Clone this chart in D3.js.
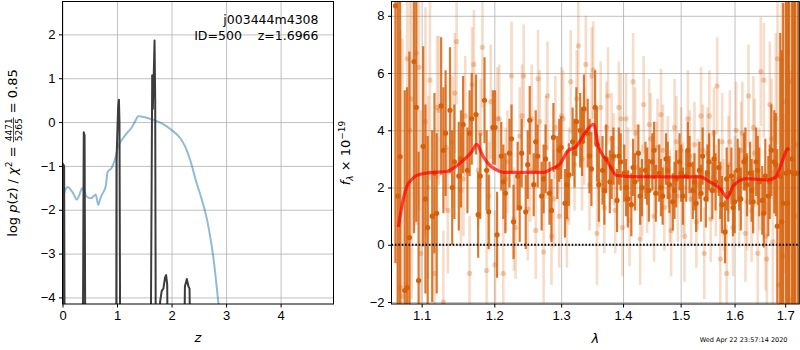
<!DOCTYPE html>
<html>
<head>
<meta charset="utf-8">
<script src="https://cdn.jsdelivr.net/npm/d3@7"></script>
<style>
  body { margin: 0; background: #fff; }
  svg { font-family: "DejaVu Sans", sans-serif; }
  .grid line { stroke: #b0b0b0; stroke-width: 0.8; }
  .grid path { display: none; }
  .axis path { display: none; }
  .axis line { stroke: #000; }
  .axis text { font-size: 13px; fill: #000; }
</style>
</head>
<body>
<div id="chart"></div>
<script>
// ---- left panel: log p(z) ----
const priorZ = [0.0, 0.05, 0.10, 0.16, 0.21, 0.26, 0.31, 0.36, 0.40, 0.44, 0.52, 0.58, 0.61, 0.655, 0.69, 0.73, 0.79, 0.83, 0.90, 0.96, 1.02, 1.11, 1.18, 1.26, 1.33, 1.39, 1.51, 1.64, 1.82, 2.00, 2.16, 2.25, 2.34, 2.46, 2.55, 2.65, 2.72, 2.77, 2.86, 2.92];
const priorLogP = [-1.77, -1.55, -1.48, -1.56, -1.66, -1.77, -1.66, -1.51, -1.58, -1.70, -1.74, -1.68, -1.65, -1.89, -1.76, -1.64, -1.48, -1.13, -1.05, -0.86, -0.56, -0.37, -0.25, -0.14, 0.01, 0.13, 0.11, 0.06, -0.03, -0.18, -0.37, -0.56, -0.86, -1.39, -1.75, -2.22, -2.70, -3.12, -4.13, -4.8];

const pzZ = [0.0, 0.006, 0.03, 0.04, 0.37, 0.39, 0.405, 0.42, 0.985, 0.99, 1.02, 1.035, 1.045, 1.06, 1.615, 1.645, 1.656, 1.672, 1.688, 1.70, 1.712, 1.77, 1.79, 1.82, 1.85, 1.88, 1.90, 1.92, 1.935, 2.225, 2.245, 2.28, 2.31, 2.33, 2.35, 5.0];
const pzLogP = [-6, -0.95, -1.0, -6, -6, -0.23, -0.3, -6, -6, -0.9, 0.35, 0.51, 0.0, -6, -6, 1.07, 0.3, 1.0, 1.86, 0.5, -6, -6, -4.1, -3.85, -3.8, -3.55, -3.49, -3.7, -6, -6, -3.75, -3.58, -3.75, -3.8, -6, -6];

const pzXTicks = [0, 1, 2, 3, 4];
const pzYTicks = [-4, -3, -2, -1, 0, 1, 2];

// ---- right panel: spectrum ----
const darkLam = [1.066,1.072,1.078,1.084,1.090,1.096,1.102,1.108,1.114,1.120,1.126,1.132,1.138,1.144,1.150,1.156,1.162,1.168,1.174,1.180,1.186,1.192,1.198,1.204,1.210,1.216,1.222,1.228,1.234,1.240,1.246,1.252,1.258,1.264,1.270,1.276,1.282,1.288,1.294,1.300,1.306,1.312,1.318,1.324,1.330,1.336,1.342,1.348,1.354,1.360,1.366,1.372,1.378,1.384,1.390,1.396,1.402,1.408,1.414,1.420,1.426,1.432,1.438,1.444,1.450,1.456,1.462,1.468,1.474,1.480,1.486,1.492,1.498,1.504,1.510,1.516,1.522,1.528,1.534,1.540,1.546,1.552,1.558,1.564,1.570,1.576,1.582,1.588,1.594,1.600,1.606,1.612,1.618,1.624,1.630,1.636,1.642,1.648,1.654,1.660,1.666,1.672,1.678,1.684,1.690,1.696,1.702,1.708,1.714,1.720,1.726];
const darkFlux = [8.35,3.08,-1.6,0.25,6.4,-1.25,3.44,0.6,1.0,1.1,
  4.85,3.9,4.7,2.9,2.4,4.2,2.6,4.4,4.55,2.4,
  5.05,1.15,4.1,0.35,3.1,1.8,3.2,0.8,2.4,3.2,
  1.15,4.35,2.1,3.1,1.7,3.0,1.8,3.75,2.7,3.4,
  1.45,2.45,3.6,4.3,4.0,4.75,3.9,2.65,4.8,2.1,
  2.6,3.0,2.2,3.1,1.55,2.9,2.5,1.6,1.4,2.2,
  3.2,2.0,2.6,1.9,2.9,1.8,2.5,1.7,3.0,2.1,
  1.5,2.3,2.9,1.7,2.4,2.8,1.9,1.45,2.6,3.1,
  1.6,2.9,1.9,2.2,2.7,1.4,0.45,1.8,2.4,1.5,
  2.6,1.6,2.9,2.1,2.5,1.5,2.9,2.2,1.55,2.4,
  1.7,3.3,2.9,0.65,2.4,1.45,2.5,2.55,3.0,2.5,2.5];
const darkErr = [9,8,7,6.5,6,4.5,3.5,3.2,3.0,2.8,
  2.4,2.2,2.2,2.0,1.9,1.7,1.5,1.6,1.4,1.5,
  1.5,1.3,1.3,1.5,1.2,1.4,1.2,1.3,1.2,1.2,
  1.3,1.2,1.1,1.1,1.2,1.2,1.1,1.2,1.1,1.1,
  1.2,1.1,1.2,1.2,1.3,1.2,1.2,1.3,1.3,1.3,
  1.2,1.2,1.1,1.0,1.1,1.0,1.0,1.0,1.1,1.0,
  1.0,1.0,1.0,1.1,1.0,1.0,1.0,1.0,0.9,1.0,
  1.0,1.0,1.0,1.0,0.9,1.0,1.0,1.0,1.0,1.0,
  1.0,1.0,1.0,1.0,1.0,1.0,1.1,1.0,1.0,1.1,
  1.1,1.1,1.0,1.1,1.1,1.1,1.2,1.2,1.2,1.3,
  1.4,1.6,1.8,2.7,5,7,8,9,10,10,10];

// second strong beam, coarser sampling
const dark2Lam = [1.069,1.081,1.093,1.105,1.117,1.129,1.141,1.153,1.165,1.177,1.189,1.201,1.213,1.225,1.237,1.249,1.261,1.273,1.285,1.297,1.309,1.321,1.333,1.345,1.357,1.369,1.381,1.393,1.405,1.417,1.429,1.441,1.453,1.465,1.477,1.489,1.501,1.513,1.525,1.537,1.549,1.561,1.573,1.585,1.597,1.609,1.621,1.633,1.645,1.657,1.669,1.681,1.693,1.705,1.717];
const dark2Flux = [1.7,-1.5,4.8,1.6,2.5,3.3,2.0,3.0,3.9,1.05,
  2.6,4.1,2.2,3.7,1.3,2.8,3.6,2.3,1.2,3.3,
  2.1,3.2,3.6,3.1,3.5,1.9,2.7,3.1,2.0,2.7,
  1.7,2.4,3.3,2.0,2.6,1.9,2.5,3.3,2.2,1.8,
  2.5,3.0,1.9,2.3,1.3,2.3,3.0,1.9,2.6,1.1,
  2.2,2.8,0.8,1.45,2.5];
const dark2Err = [8,7,4,3.3,2.8,2.2,2.0,1.7,1.5,1.5,
  1.4,1.3,1.3,1.2,1.2,1.2,1.1,1.2,1.1,1.1,
  1.2,1.2,1.2,1.3,1.3,1.2,1.1,1.0,1.0,1.0,
  1.0,1.0,1.0,1.0,1.0,1.0,1.0,1.0,1.0,1.0,
  1.0,1.0,1.0,1.1,1.0,1.1,1.1,1.1,1.2,1.2,
  1.3,1.8,6,9,10];

const lightLam = [1.069,1.075,1.081,1.087,1.093,1.099,1.105,1.111,1.117,1.123,1.129,1.135,1.141,1.147,1.153,1.159,1.165,1.171,1.177,1.183,1.189,1.195,1.201,1.207,1.213,1.219,1.225,1.231,1.237,1.243,1.249,1.255,1.261,1.267,1.273,1.279,1.285,1.291,1.297,1.303,1.309,1.315,1.321,1.327,1.333,1.339,1.345,1.351,1.357,1.363,1.369,1.375,1.381,1.387,1.393,1.399,1.405,1.411,1.417,1.423,1.429,1.435,1.441,1.447,1.453,1.459,1.465,1.471,1.477,1.483,1.489,1.495,1.501,1.507,1.513,1.519,1.525,1.531,1.537,1.543,1.549,1.555,1.561,1.567,1.573,1.579,1.585,1.591,1.597,1.603,1.609,1.615,1.621,1.627,1.633,1.639,1.645,1.651,1.657,1.663,1.669,1.675,1.681,1.687,1.693,1.699,1.705,1.711,1.717,1.723];
const lightFlux = [1.7,-1.8,6.5,5.1,6.7,-0.3,4.3,5.75,-1.0,4.7,
  -2.0,1.2,3.6,7.1,1.9,4.5,-1.0,6.3,2.6,6.9,
  -0.9,5.0,-0.7,4.4,-1.0,2.9,5.9,0.6,3.8,5.9,
  1.25,4.4,0.5,4.3,-0.25,5.2,0.3,4.1,1.0,4.4,
  0.9,5.7,2.8,6.95,3.0,6.3,2.1,6.1,0.4,4.8,
  1.3,5.2,3.7,1.2,4.8,0.6,4.4,0.85,5.7,2.7,
  0.2,4.9,1.9,3.7,1.0,3.4,4.55,1.3,2.9,0.5,
  4.1,1.7,3.3,0.3,4.4,1.6,3.5,2.1,4.5,-0.3,
  3.2,0.9,3.9,5.55,-0.5,1.4,-1.0,3.6,0.6,4.0,
  1.6,3.9,0.4,5.2,1.2,3.2,-0.3,6.05,5.75,-0.5,
  4.9,0.1,4.4,-1.4,6.5,5.0,6.75,-1.9,2.0,3.5];
const lightErr = [9,9,8,7,6,5,4,3.5,3,2.6,
  2.5,2.2,2.3,2.2,2.0,2.1,2.0,1.9,2.0,2.1,
  2.0,2.0,1.9,1.9,2.0,1.8,1.9,1.8,1.7,1.8,
  1.8,1.9,1.7,1.8,1.8,1.9,1.7,1.8,1.8,1.7,
  1.7,1.8,1.6,1.7,1.8,1.7,1.6,1.7,1.8,1.6,
  1.6,1.7,1.6,1.5,1.6,1.7,1.6,1.6,1.7,1.5,
  1.6,1.7,1.5,1.6,1.6,1.7,1.6,1.5,1.6,1.6,
  1.7,1.6,1.5,1.6,1.7,1.6,1.5,1.6,1.7,1.6,
  1.6,1.5,1.6,1.7,1.7,1.6,1.7,1.8,1.7,1.7,
  1.7,1.8,1.7,1.8,1.8,1.9,1.8,1.9,2.0,2.0,
  2.2,2.5,3,4,5,6,7,8,9,9];

const light2Lam = [1.0725,1.0845,1.0965,1.1085,1.1205,1.1325,1.1445,1.1565,1.1685,1.1805,1.1925,1.2045,1.2165,1.2285,1.2405,1.2525,1.2645,1.2765,1.2885,1.3005,1.3125,1.3245,1.3365,1.3485,1.3605,1.3725,1.3845,1.3965,1.4085,1.4205,1.4325,1.4445,1.4565,1.4685,1.4805,1.4925,1.5045,1.5165,1.5285,1.5405,1.5525,1.5645,1.5765,1.5885,1.6005,1.6125,1.6245,1.6365,1.6485,1.6605,1.6725,1.6845,1.6965,1.7085,1.7205];
const light2Flux = [-1.5,4.0,6.2,2.0,4.8,3.4,5.3,2.3,5.6,3.9,
  1.7,4.4,2.3,0.9,4.5,2.6,5.8,3.4,1.6,4.5,
  2.4,5.1,3.8,5.9,2.2,4.1,3.0,4.4,2.5,3.9,
  1.9,4.2,2.7,3.3,1.7,3.6,2.0,3.1,0.8,3.3,
  4.5,1.9,3.6,2.8,2.1,3.3,1.5,4.1,2.3,0.3,
  3.7,6.5,-0.4,5.7,1.0];
const light2Err = [9,7,5,3.2,2.5,2.2,2.1,2.0,2.0,1.9,
  1.9,1.8,1.8,1.8,1.8,1.8,1.7,1.8,1.7,1.7,
  1.7,1.7,1.7,1.7,1.6,1.6,1.6,1.6,1.6,1.6,
  1.6,1.6,1.6,1.6,1.6,1.6,1.6,1.6,1.6,1.6,
  1.6,1.6,1.7,1.7,1.7,1.7,1.7,1.8,1.8,1.9,
  2.1,3,5,8,9];

const modelLam = [1.0696,1.0750,1.0804,1.0870,1.0934,1.1110,1.1335,1.1450,1.1563,1.1680,1.1750,1.1844,1.1939,1.2030,1.2130,1.2727,1.2850,1.2984,1.3114,1.3220,1.3406,1.3514,1.3595,1.3730,1.3897,1.4120,1.5360,1.5540,1.5730,1.5860,1.5980,1.6240,1.6640,1.6800,1.6900,1.6980,1.7050,1.7080];
const modelFlux = [0.62,1.45,2.02,2.28,2.42,2.52,2.56,2.72,2.95,3.25,3.51,3.07,2.77,2.62,2.53,2.53,2.65,2.83,3.30,3.40,4.00,4.21,3.42,2.95,2.42,2.38,2.37,2.19,1.96,1.64,2.07,2.31,2.27,2.35,2.72,3.10,3.36,3.30];

const specXTicks = [1.1, 1.2, 1.3, 1.4, 1.5, 1.6, 1.7];
const specYTicks = [-2, 0, 2, 4, 6, 8];

const orange = '#d6600a';

const width = 800, height = 350;
const svg = d3.select('#chart').append('svg')
  .attr('width', width)
  .attr('height', height);

function frame(g, x0, x1, y0, y1) {
  g.append('rect')
    .attr('x', x0).attr('y', y0)
    .attr('width', x1 - x0).attr('height', y1 - y0)
    .attr('fill', 'none').attr('stroke', '#000').attr('stroke-width', 1);
}

function drawPz() {
  const left = 62.5, right = 333.5, top = 1.5, bottom = 304;
  const x = d3.scaleLinear().domain([0, 4.97]).range([left, right]);
  const y = d3.scaleLinear().domain([-4.15, 2.75]).range([bottom, top]);
  const g = svg.append('g');

  g.append('clipPath').attr('id', 'clipPz')
    .append('rect').attr('x', left).attr('y', top)
    .attr('width', right - left).attr('height', bottom - top);

  g.append('g').classed('grid', true)
    .attr('transform', `translate(0, ${bottom})`)
    .call(d3.axisBottom(x).tickValues(pzXTicks).tickSize(-(bottom - top)).tickFormat(''));
  g.append('g').classed('grid', true)
    .attr('transform', `translate(${left}, 0)`)
    .call(d3.axisLeft(y).tickValues(pzYTicks).tickSize(-(right - left)).tickFormat(''));

  const plot = g.append('g').attr('clip-path', 'url(#clipPz)');
  const idxPrior = d3.range(priorZ.length);
  plot.append('path')
    .attr('d', d3.line().x(i => x(priorZ[i])).y(i => y(priorLogP[i])).curve(d3.curveMonotoneX)(idxPrior))
    .attr('fill', 'none').attr('stroke', '#1f77b4').attr('stroke-opacity', 0.5).attr('stroke-width', 2);

  const idxPz = d3.range(pzZ.length);
  plot.append('path')
    .attr('d', d3.line().x(i => x(pzZ[i])).y(i => y(pzLogP[i]))(idxPz))
    .attr('fill', 'none').attr('stroke', '#3c3c3c').attr('stroke-width', 2)
    .attr('stroke-linejoin', 'round');

  g.append('g').classed('axis', true)
    .attr('transform', `translate(0, ${bottom})`)
    .call(d3.axisBottom(x).tickValues(pzXTicks).tickSize(3.5).tickPadding(3.5).tickFormat(d3.format('d')));
  g.append('g').classed('axis', true)
    .attr('transform', `translate(${left}, 0)`)
    .call(d3.axisLeft(y).tickValues(pzYTicks).tickSize(3.5).tickPadding(3.5).tickFormat(d3.format('d')));

  frame(g, left, right, top, bottom);

  g.append('text').attr('x', 318.5).attr('y', 24).attr('text-anchor', 'end')
    .style('font-size', '12.5px').text('j003444m4308');
  g.append('text').attr('x', 318.5).attr('y', 39.5).attr('text-anchor', 'end')
    .style('font-size', '12.5px').attr('xml:space', 'preserve').text('ID=500    z=1.6966');

  g.append('text').attr('x', (left + right) / 2).attr('y', 342).attr('text-anchor', 'middle')
    .style('font-size', '13px').style('font-style', 'italic').text('z');

  // rotated y label with stacked fraction
  const yl = g.append('g').attr('transform', 'translate(17, 153) rotate(-90)');
  const t1 = yl.append('text').style('font-size', '13px');
  t1.append('tspan').text('log ');
  t1.append('tspan').style('font-style', 'italic').text('p');
  t1.append('tspan').text('(');
  t1.append('tspan').style('font-style', 'italic').text('z');
  t1.append('tspan').text(') / ');
  t1.append('tspan').style('font-style', 'italic').text('χ');
  t1.append('tspan').style('font-size', '9px').attr('dy', -5).text('2');
  t1.append('tspan').attr('dy', 5).attr('xml:space', 'preserve').text(' = ');
  const num = yl.append('text').style('font-size', '9px').attr('text-anchor', 'middle').attr('y', -5.5).text('4471');
  const den = yl.append('text').style('font-size', '9px').attr('text-anchor', 'middle').attr('y', 5).text('5265');
  const t2 = yl.append('text').style('font-size', '13px').attr('xml:space', 'preserve').text(' = 0.85');
  const w1 = t1.node().getComputedTextLength();
  const wf = Math.max(num.node().getComputedTextLength(), den.node().getComputedTextLength()) + 2;
  const w2 = t2.node().getComputedTextLength();
  const start = -(w1 + wf + w2) / 2;
  t1.attr('x', start);
  num.attr('x', start + w1 + wf / 2);
  den.attr('x', start + w1 + wf / 2);
  yl.append('line').attr('x1', start + w1).attr('x2', start + w1 + wf)
    .attr('y1', -3.5).attr('y2', -3.5).attr('stroke', '#000').attr('stroke-width', 0.7);
  t2.attr('x', start + w1 + wf);
}

function drawSpec() {
  const left = 391.5, right = 799.3, top = 1.5, bottom = 304;
  const x = d3.scaleLog().domain([1.061, 1.729]).range([left, right]);
  const y = d3.scaleLinear().domain([-2.07, 8.5]).range([bottom, top]);
  const g = svg.append('g');

  g.append('clipPath').attr('id', 'clipSpec')
    .append('rect').attr('x', left).attr('y', top)
    .attr('width', right - left).attr('height', bottom - top);

  g.append('g').classed('grid', true)
    .attr('transform', `translate(0, ${bottom})`)
    .call(d3.axisBottom(x).tickValues(specXTicks).tickSize(-(bottom - top)).tickFormat(''));
  g.append('g').classed('grid', true)
    .attr('transform', `translate(${left}, 0)`)
    .call(d3.axisLeft(y).tickValues(specYTicks).tickSize(-(right - left)).tickFormat(''));

  const plot = g.append('g').attr('clip-path', 'url(#clipSpec)');

  function drawBars(s, lam, flux, err, barOpacity, barWidth) {
    s.selectAll(null)
      .data(d3.range(lam.length))
      .enter()
      .append('line')
      .attr('x1', i => x(lam[i]))
      .attr('x2', i => x(lam[i]))
      .attr('y1', i => y(flux[i] - err[i]))
      .attr('y2', i => y(flux[i] + err[i]))
      .attr('stroke', orange)
      .attr('stroke-opacity', barOpacity)
      .attr('stroke-width', barWidth);
  }

  function drawDots(s, lam, flux, dotOpacity) {
    s.selectAll(null)
      .data(d3.range(lam.length))
      .enter()
      .append('circle')
      .attr('cx', i => x(lam[i]))
      .attr('cy', i => y(flux[i]))
      .attr('r', 2.6)
      .attr('fill', orange)
      .attr('fill-opacity', dotOpacity);
  }

  const lightG = plot.append('g');
  drawBars(lightG, lightLam, lightFlux, lightErr, 0.22, 2.6);
  drawBars(lightG, light2Lam, light2Flux, light2Err, 0.22, 2.6);
  drawDots(lightG, lightLam, lightFlux, 0.3);
  drawDots(lightG, light2Lam, light2Flux, 0.3);

  const darkG = plot.append('g');
  drawBars(darkG, darkLam, darkFlux, darkErr, 0.85, 2.2);
  drawBars(darkG, dark2Lam, dark2Flux, dark2Err, 0.85, 2.2);
  drawDots(darkG, darkLam, darkFlux, 1);
  drawDots(darkG, dark2Lam, dark2Flux, 1);

  const idxModel = d3.range(modelLam.length);
  plot.append('path')
    .attr('d', d3.line().x(i => x(modelLam[i])).y(i => y(modelFlux[i])).curve(d3.curveMonotoneX)(idxModel))
    .attr('fill', 'none').attr('stroke', 'red').attr('stroke-opacity', 0.7).attr('stroke-width', 3.2);

  plot.append('line')
    .attr('x1', left).attr('x2', right)
    .attr('y1', y(0)).attr('y2', y(0))
    .attr('stroke', '#000').attr('stroke-width', 1.8).attr('stroke-dasharray', '1.6,1.8');

  g.append('g').classed('axis', true)
    .attr('transform', `translate(0, ${bottom})`)
    .call(d3.axisBottom(x).tickValues(specXTicks).tickSize(3.5).tickPadding(3.5).tickFormat(d3.format('.1f')));
  g.append('g').classed('axis', true)
    .attr('transform', `translate(${left}, 0)`)
    .call(d3.axisLeft(y).tickValues(specYTicks).tickSize(3.5).tickPadding(3.5).tickFormat(d3.format('d')));

  frame(g, left, right, top, bottom);

  g.append('text').attr('x', (left + right) / 2).attr('y', 343).attr('text-anchor', 'middle')
    .style('font-size', '13px').style('font-style', 'italic').text('λ');

  const yl = g.append('text')
    .attr('transform', 'translate(350, 153) rotate(-90)')
    .attr('text-anchor', 'middle')
    .style('font-size', '13px');
  yl.append('tspan').style('font-style', 'italic').text('f');
  yl.append('tspan').style('font-size', '9px').style('font-style', 'italic').attr('dy', 3).text('λ');
  yl.append('tspan').attr('dy', -3).attr('xml:space', 'preserve').text(' × 10');
  yl.append('tspan').style('font-size', '9px').attr('dy', -5).text('−19');

  g.append('text').attr('x', 787.5).attr('y', 342).attr('text-anchor', 'end')
    .style('font-size', '6.5px').text('Wed Apr 22 23:57:14 2020');
}

drawPz();
drawSpec();
</script>
</body>
</html>
